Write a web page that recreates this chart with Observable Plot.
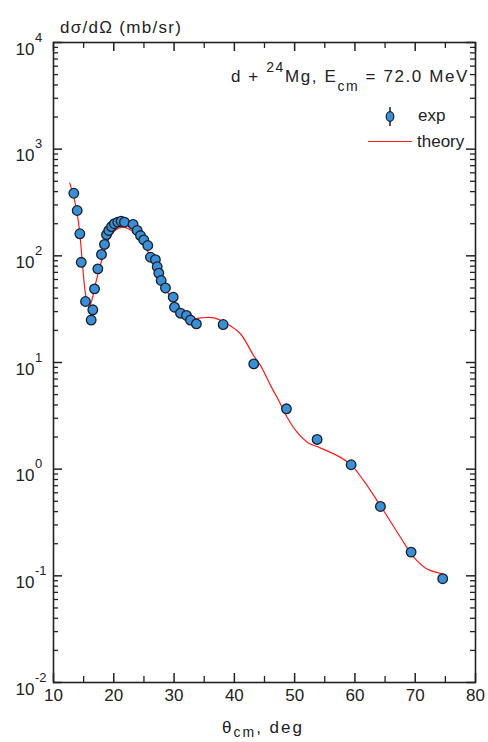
<!DOCTYPE html>
<html>
<head>
<meta charset="utf-8">
<script src="https://cdn.jsdelivr.net/npm/d3@7"></script>
<script src="https://cdn.jsdelivr.net/npm/@observablehq/plot@0.6"></script>
<style>
  html, body { margin: 0; padding: 0; background: #fff; }
  #chart svg { display: block; }
</style>
</head>
<body>
<div id="chart"></div>
<script>
// ---- data ----
const expTheta = [13.37, 13.93, 14.37, 14.6, 15.31, 16.25, 16.52, 16.8, 17.35, 17.96, 18.46, 18.79, 19.17, 19.62, 20.1, 20.66, 21.22, 21.77, 23.2, 23.88, 24.43, 24.97, 25.64, 26.08, 26.9, 27.2, 27.46, 27.86, 28.57, 29.85, 30.07, 31.06, 32.06, 32.72, 33.7, 38.14, 43.22, 48.64, 53.73, 59.37, 64.23, 69.32, 74.56];
const expSigma = [386, 266, 161, 87, 37.3, 25, 31.2, 49, 75.5, 103, 128, 158, 173, 188, 200, 207, 211, 207, 197, 173, 155, 141, 125, 97, 92, 79, 68.8, 58.7, 50, 41, 33, 29, 27.6, 25, 23, 22.7, 9.7, 3.68, 1.9, 1.1, 0.447, 0.167, 0.094];

const theoryTheta = [12.7, 13.37, 13.93, 14.37, 14.76, 15.31, 15.86, 16.42, 16.97, 17.68, 18.46, 19.17, 20.28, 21.55, 22.77, 24.15, 25.54, 26.92, 28.29, 29.95, 31.6, 33.27, 34.4, 36.6, 38.8, 41.0, 43.2, 44.33, 46.0, 47.36, 48.75, 50.4, 52.34, 53.73, 57.6, 59.5, 61.45, 64.2, 67.55, 69.75, 71.97, 74.72];
const theorySigma = [480, 355, 248, 161, 90, 44, 33, 39.5, 54.7, 78, 112, 144, 175, 186, 175, 150, 112, 81, 54.7, 35.5, 27.6, 25.7, 26.2, 26.2, 23, 18.6, 11.6, 9.4, 6.1, 4.4, 3.07, 2.22, 1.75, 1.63, 1.29, 1.08, 0.78, 0.457, 0.23, 0.15, 0.116, 0.104];

const xMajorTicks = [10, 20, 30, 40, 50, 60, 70, 80];
const xMinorTicks = [15, 25, 35, 45, 55, 65, 75];
const yExponents = [-2, -1, 0, 1, 2, 3, 4];
const yMinorMantissas = [2, 3, 4, 5, 6, 7, 8, 9];

const yTitle = "dσ/dΩ (mb/sr)";
const legendLabels = ["exp", "theory"];

// ---- build tables ----
const expData = expTheta.map((t, i) => ({theta: t, sigma: expSigma[i]}));
const theoryData = theoryTheta.map((t, i) => ({theta: t, sigma: theorySigma[i]}));
const yMajor = yExponents.map(e => ({e, v: Math.pow(10, e)}));
const yMinor = yExponents.slice(0, -1).flatMap(e => yMinorMantissas.map(m => m * Math.pow(10, e)));

const W = 488, H = 742;
const mL = 53, mR = 13, mT = 42, mB = 60;
const fw = W - mL - mR, fh = H - mT - mB;
const FONT = "'Liberation Sans', Arial, sans-serif";
const axisColor = "#222";

const plot = Plot.plot({
  width: W, height: H,
  marginLeft: mL, marginRight: mR, marginTop: mT, marginBottom: mB,
  style: {fontFamily: FONT, fontSize: "17px", color: "#222", background: "#fff"},
  x: {domain: [10, 80], axis: null},
  y: {type: "log", domain: [0.01, 10000], axis: null},
  marks: [
    Plot.line(theoryData, {x: "theta", y: "sigma", stroke: "#ff1a1a", strokeWidth: 1.2, curve: "catmull-rom"}),
    Plot.dot(expData, {x: "theta", y: "sigma", r: 4.8, fill: "#3b8fd6", stroke: "#15202b", strokeWidth: 1.3}),
    Plot.frame({stroke: axisColor, strokeWidth: 1.6}),
    Plot.tickY(yMajor, {y: "v", insetRight: fw - 9, stroke: axisColor, strokeWidth: 1.5}),
    Plot.tickY(yMajor, {y: "v", insetLeft: fw - 9, stroke: axisColor, strokeWidth: 1.5}),
    Plot.tickY(yMinor, {y: d => d, insetRight: fw - 5, stroke: axisColor, strokeWidth: 1.3}),
    Plot.tickY(yMinor, {y: d => d, insetLeft: fw - 5, stroke: axisColor, strokeWidth: 1.3}),
    Plot.tickX(xMajorTicks, {x: d => d, insetTop: fh - 9, stroke: axisColor, strokeWidth: 1.5}),
    Plot.tickX(xMajorTicks, {x: d => d, insetBottom: fh - 9, stroke: axisColor, strokeWidth: 1.5}),
    Plot.tickX(xMinorTicks, {x: d => d, insetTop: fh - 6, stroke: axisColor, strokeWidth: 1.3}),
    Plot.tickX(xMinorTicks, {x: d => d, insetBottom: fh - 6, stroke: axisColor, strokeWidth: 1.3}),
    Plot.text(xMajorTicks, {x: d => d, text: d => String(d), frameAnchor: "bottom", lineAnchor: "bottom", dy: 18, fontSize: 17, fill: "#222"}),
    Plot.text(yMajor, {y: "v", text: () => "10", frameAnchor: "left", textAnchor: "end", lineAnchor: "bottom", dx: -19, dy: 12, fontSize: 17, fill: "#222"}),
    Plot.text(yMajor, {y: "v", text: d => String(d.e), frameAnchor: "left", textAnchor: "start", lineAnchor: "bottom", dx: -18.5, dy: -1, fontSize: 13, fill: "#222"})
  ]
});

document.getElementById("chart").appendChild(plot);

// ---- annotations (titles, legend) ----
const svg = d3.select(plot);
const g = svg.append("g").attr("font-family", FONT).attr("fill", "#222").attr("text-anchor", "start");

// y-axis title
g.append("text").attr("x", 60).attr("y", 33).attr("font-size", 17).attr("letter-spacing", 1.3).attr("text-anchor", "start").text(yTitle);

// reaction title
const t = g.append("text").attr("x", 469).attr("y", 82).attr("text-anchor", "end").attr("font-size", 17).attr("letter-spacing", 1.6);
t.append("tspan").text("d + ");
t.append("tspan").attr("font-size", 14).attr("dy", -10).text("24");
t.append("tspan").attr("dy", 10).text("Mg, E");
t.append("tspan").attr("font-size", 14).attr("dy", 9).text("cm");
t.append("tspan").attr("dy", -9).text(" = 72.0 MeV");

// x-axis title
const xt = g.append("text").attr("x", 263).attr("y", 733).attr("text-anchor", "middle").attr("font-size", 17).attr("letter-spacing", 2);
xt.append("tspan").text("θ");
xt.append("tspan").attr("font-size", 14).attr("dy", 4).text("cm");
xt.append("tspan").attr("dy", -4).text(", deg");

// legend
const lg = g.append("g");
lg.append("line").attr("x1", 390).attr("x2", 390).attr("y1", 107).attr("y2", 126).attr("stroke", "#15202b").attr("stroke-width", 1.5);
lg.append("ellipse").attr("cx", 390).attr("cy", 116.5).attr("rx", 3.8).attr("ry", 4.8).attr("fill", "#3b8fd6").attr("stroke", "#15202b").attr("stroke-width", 1.2);
lg.append("text").attr("x", 418).attr("y", 121).attr("font-size", 17).attr("text-anchor", "start").text(legendLabels[0]);
lg.append("line").attr("x1", 368).attr("x2", 412).attr("y1", 141.5).attr("y2", 141.5).attr("stroke", "#ff1a1a").attr("stroke-width", 1.2);
lg.append("text").attr("x", 417).attr("y", 146.5).attr("font-size", 17).attr("text-anchor", "start").text(legendLabels[1]);
</script>
</body>
</html>
